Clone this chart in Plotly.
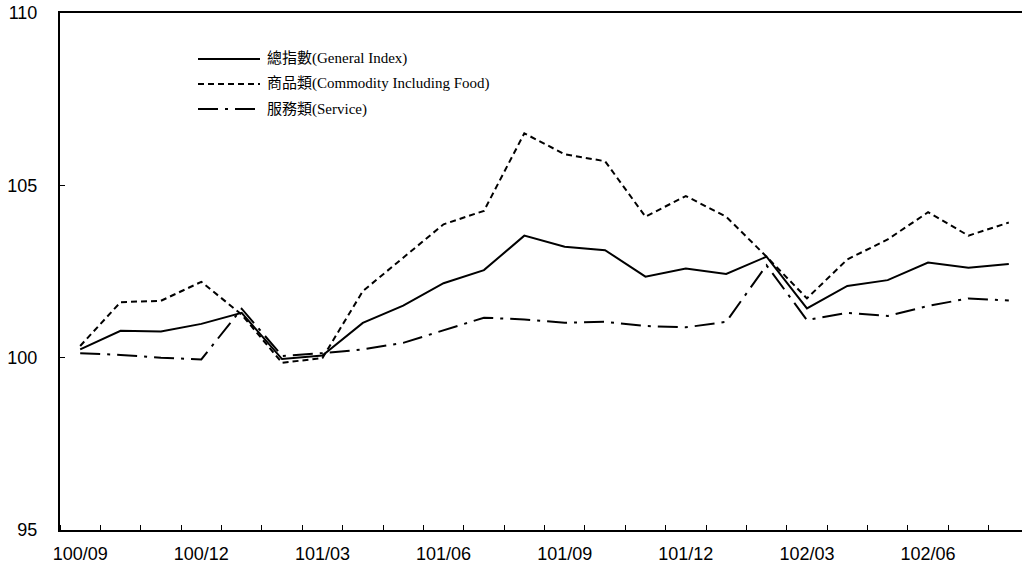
import plotly.graph_objects as go

months = ["100/09", "100/10", "100/11", "100/12", "101/01", "101/02", "101/03", "101/04",
          "101/05", "101/06", "101/07", "101/08", "101/09", "101/10", "101/11", "101/12",
          "102/01", "102/02", "102/03", "102/04", "102/05", "102/06", "102/07", "102/08"]

general = [100.24, 100.78, 100.76, 100.98, 101.30, 99.96, 100.06, 101.01, 101.51, 102.16,
           102.54, 103.54, 103.22, 103.12, 102.35, 102.59, 102.43, 102.93, 101.43, 102.08,
           102.25, 102.76, 102.61, 102.72]

commodity = [100.34, 101.61, 101.65, 102.20, 101.25, 99.85, 99.99, 101.93, 102.90, 103.87,
             104.26, 106.51, 105.90, 105.70, 104.09, 104.69, 104.09, 102.93, 101.72, 102.85,
             103.43, 104.22, 103.54, 103.92]

service = [100.13, 100.08, 100.00, 99.95, 101.42, 100.05, 100.13, 100.24, 100.43, 100.80,
           101.16, 101.11, 101.01, 101.04, 100.92, 100.88, 101.04, 102.68, 101.09, 101.30,
           101.21, 101.50, 101.72, 101.66]

tick_labels = ["100/09", "100/12", "101/03", "101/06", "101/09", "101/12", "102/03", "102/06"]
y_ticks = [95, 100, 105, 110]

series_names = ["總指數(General Index)",
                "商品類(Commodity Including Food)",
                "服務類(Service)"]
series_values = [general, commodity, service]
series_dash = ["solid", "6px,4px", "20px,7px,3px,7px"]

x_idx = list(range(len(months)))

fig = go.Figure()
for name, vals, dash in zip(series_names, series_values, series_dash):
    fig.add_trace(go.Scatter(
        x=x_idx, y=vals, mode="lines", name=name,
        line=dict(color="black", width=2, dash=dash),
        showlegend=False,
        text=months, hovertemplate="%{text}: %{y}<extra>" + name + "</extra>",
    ))

# figure geometry (page body margin removed via post_script)
W, H = 1022, 569
L, R, T, B = 60, 0, 13, 39
pw, ph = W - L - R, H - T - B
CAT_PX = 40.375  # pixel width of one month; the plot area runs past the right edge

def px_x(px):
    return (px - L) / pw

def px_y(py):
    return (H - B - py) / ph

legend_rows_y = [59, 84, 109]
shapes = []
annotations = []
for name, dash, ry in zip(series_names, series_dash, legend_rows_y):
    shapes.append(dict(type="line", xref="paper", yref="paper",
                       x0=px_x(198), x1=px_x(260), y0=px_y(ry), y1=px_y(ry),
                       line=dict(color="black", width=2, dash=dash)))
    annotations.append(dict(xref="paper", yref="paper", x=px_x(265), y=px_y(ry),
                            xanchor="left", yanchor="middle", showarrow=False,
                            text=name,
                            font=dict(family="Liberation Serif, 'Noto Sans CJK TC', serif",
                                      size=15, color="black")))

tick_font = dict(family="Liberation Sans, Arial, sans-serif", size=18, color="black")

fig.update_layout(
    width=W, height=H,
    margin=dict(l=L, r=R, t=T, b=B, pad=0, autoexpand=False),
    paper_bgcolor="white", plot_bgcolor="white",
    shapes=shapes, annotations=annotations,
    xaxis=dict(
        range=[-0.5, -0.5 + pw / CAT_PX],
        tickmode="array",
        tickvals=[months.index(t) for t in tick_labels],
        ticktext=tick_labels,
        ticks="", ticklen=0,
        minor=dict(tickmode="linear", tick0=-0.5, dtick=1, ticks="inside",
                   ticklen=5, tickwidth=1, tickcolor="black", showgrid=False),
        showline=True, linecolor="black", linewidth=2, mirror=True,
        showgrid=False, zeroline=False, automargin=False,
        tickfont=tick_font, ticklabelstandoff=6, ticklabeloverflow="allow",
    ),
    yaxis=dict(
        range=[95, 110],
        tickmode="array", tickvals=y_ticks, ticktext=[str(v) for v in y_ticks],
        ticks="inside", ticklen=5, tickwidth=1, tickcolor="black",
        showline=True, linecolor="black", linewidth=2, mirror=False,
        showgrid=False, zeroline=False, automargin=False,
        tickfont=tick_font, ticklabelstandoff=17, ticklabeloverflow="allow",
    ),
    hovermode="closest",
)

fig.write_html("out.html",
               config={"displayModeBar": False},
               post_script="document.body.style.margin='0';document.body.style.padding='0';")
